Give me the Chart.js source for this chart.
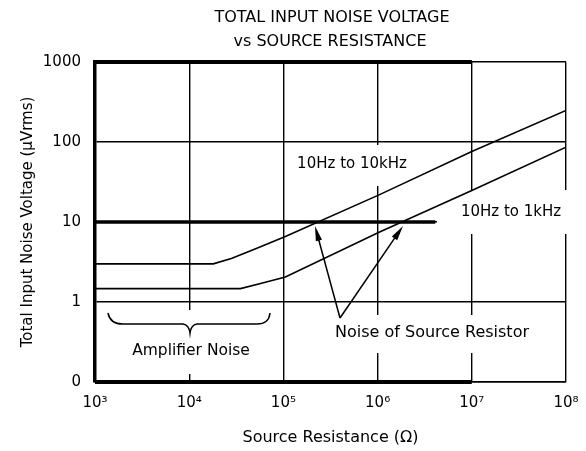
<!DOCTYPE html>
<html>
<head>
<meta charset="utf-8">
<script src="https://cdn.jsdelivr.net/npm/chart.js@4.4.1/dist/chart.umd.min.js"></script>
<style>
  html, body { margin: 0; padding: 0; background: #fff; }
  #wrap { width: 586px; height: 451px; }
</style>
</head>
<body>
<div id="wrap"><canvas id="noiseChart"></canvas></div>
<script>
// Values: source resistance (ohm) vs total input noise (uVrms)
const resistance10k = [1e3, 1.8e4, 2.8e4, 5e4, 1.05e5, 1.05e6, 1e7, 1e8]
const noise10k = [3.0, 3.0, 3.5, 4.6, 6.6, 22, 76, 248]
const resistance1k = [1e3, 3.5e4, 6e4, 1.05e5, 1.05e6, 1e7, 1e8]
const noise1k = [1.47, 1.47, 1.73, 2.05, 7.5, 24.8, 86]

// heavy rules of the printed grid
const heavyFrameX = [1e3, 1e7]
const heavyTenX = [1e3, 4.1e6]

const xTicks = [1e3, 1e4, 1e5, 1e6, 1e7, 1e8]
const xTickLabels = ["10³", "10⁴", "10⁵", "10⁶", "10⁷", "10⁸"]
const yTicks = [0.1, 1, 10, 100, 1000]
const yTickLabels = ["0", "1", "10", "100", "1000"]

const toPoints = (xs, ys) => xs.map((x, i) => ({ x: x, y: ys[i] }))

Chart.defaults.font.family = "DejaVu Sans"
Chart.defaults.color = "#000"

const FONT = "DejaVu Sans"

function arrow(ctx, x0, y0, x1, y1) {
  const ang = Math.atan2(y1 - y0, x1 - x0)
  const len = 15, half = 3.2
  ctx.beginPath()
  ctx.moveTo(x0, y0)
  ctx.lineTo(x1 - Math.cos(ang) * len * 0.6, y1 - Math.sin(ang) * len * 0.6)
  ctx.stroke()
  ctx.beginPath()
  ctx.moveTo(x1, y1)
  ctx.lineTo(x1 - Math.cos(ang) * len - Math.sin(ang) * half, y1 - Math.sin(ang) * len + Math.cos(ang) * half)
  ctx.lineTo(x1 - Math.cos(ang) * len + Math.sin(ang) * half, y1 - Math.sin(ang) * len - Math.cos(ang) * half)
  ctx.closePath()
  ctx.fill()
}

// white label backgrounds that cut the grid, then the notes on top
const notesPlugin = {
  id: "notes",
  beforeDatasetsDraw(chart) {
    const ctx = chart.ctx
    ctx.save()
    ctx.fillStyle = "#fff"
    ctx.fillRect(290, 145, 124, 41)
    ctx.fillRect(437, 190, 138, 44)
    ctx.fillRect(100, 310, 181, 64)
    ctx.fillRect(300, 315, 245, 38)
    ctx.restore()
  },
  afterDatasetsDraw(chart) {
    const ctx = chart.ctx
    ctx.save()
    ctx.fillStyle = "#000"
    ctx.strokeStyle = "#000"
    ctx.textAlign = "center"
    ctx.textBaseline = "middle"

    ctx.font = "16px '" + FONT + "'"
    ctx.fillText("TOTAL INPUT NOISE VOLTAGE", 332, 18)
    ctx.fillText("vs SOURCE RESISTANCE", 330, 42)

    ctx.font = "15px '" + FONT + "'"
    ctx.fillText("10Hz to 10kHz", 352, 164)
    ctx.fillText("10Hz to 1kHz", 511, 212)
    ctx.font = "15.5px '" + FONT + "'"
    ctx.fillText("Amplifier Noise", 191, 351)
    ctx.font = "16px '" + FONT + "'"
    ctx.fillText("Noise of Source Resistor", 432, 333)

    // brace under the flat part
    ctx.lineWidth = 1.5
    ctx.beginPath()
    ctx.moveTo(108, 313)
    ctx.quadraticCurveTo(110, 324, 123, 324)
    ctx.lineTo(183, 324)
    ctx.quadraticCurveTo(189, 325, 190, 333)
    ctx.quadraticCurveTo(191, 325, 197, 324)
    ctx.lineTo(257, 324)
    ctx.quadraticCurveTo(269, 324, 270, 313)
    ctx.stroke()

    // arrows from the label to both crossings
    ctx.lineWidth = 1.5
    arrow(ctx, 340, 318, 315, 226)
    arrow(ctx, 340, 318, 403, 226)
    ctx.restore()
  }
}

const lineStyle = { borderColor: "#000", borderWidth: 1.6, pointRadius: 0, tension: 0, fill: false }
const heavyStyle = { borderColor: "#000", borderWidth: 4, pointRadius: 0, clip: false, fill: false }

new Chart(document.getElementById("noiseChart"), {
  type: "line",
  data: {
    datasets: [
      { label: "10Hz to 10kHz", data: toPoints(resistance10k, noise10k), ...lineStyle },
      { label: "10Hz to 1kHz", data: toPoints(resistance1k, noise1k), ...lineStyle },
      { label: "top", data: toPoints(heavyFrameX, [1000, 1000]), ...heavyStyle },
      { label: "bottom", data: toPoints(heavyFrameX, [0.1, 0.1]), ...heavyStyle },
      { label: "ten", data: toPoints(heavyTenX, [10, 10]), ...heavyStyle, borderWidth: 3.5 },
    ],
  },
  options: {
    responsive: true,
    maintainAspectRatio: false,
    animation: false,
    layout: { padding: { top: 62, right: 20, bottom: 0, left: 0 } },
    plugins: {
      legend: { display: false },
      tooltip: { enabled: false },
      title: { display: false },
    },
    scales: {
      x: {
        type: "logarithmic",
        min: 1e3,
        max: 1e8,
        afterBuildTicks: (scale) => { scale.ticks = xTicks.map((v) => ({ value: v })) },
        afterFit: (scale) => {
          scale.height = 69
          scale.paddingLeft = 0
          scale.paddingRight = 0
        },
        grid: { color: "#000", lineWidth: 1.4, drawTicks: false },
        border: { display: true, color: "#000", width: 1.4 },
        ticks: {
          color: "#000",
          font: { size: 15 },
          padding: 12,
          maxRotation: 0,
          autoSkip: false,
          callback: (value, index) => xTickLabels[index],
        },
        title: {
          display: true,
          text: "Source Resistance (Ω)",
          color: "#000",
          font: { size: 16 },
          padding: { top: 0, bottom: 4 },
        },
      },
      y: {
        type: "logarithmic",
        min: 0.1,
        max: 1000,
        afterBuildTicks: (scale) => { scale.ticks = yTicks.map((v) => ({ value: v })) },
        afterFit: (scale) => {
          scale.width = 95
          scale.paddingTop = 0
          scale.paddingBottom = 0
        },
        grid: { color: "#000", lineWidth: 1.4, drawTicks: false },
        border: { display: true, color: "#000", width: 3.5 },
        ticks: {
          color: "#000",
          font: { size: 15 },
          padding: 14,
          autoSkip: false,
          callback: (value, index) => yTickLabels[index],
        },
        title: {
          display: true,
          text: "Total Input Noise Voltage (μVrms)",
          color: "#000",
          font: { size: 15 },
          padding: { top: 19, bottom: 0 },
        },
      },
    },
  },
  plugins: [notesPlugin],
})
</script>
</body>
</html>
